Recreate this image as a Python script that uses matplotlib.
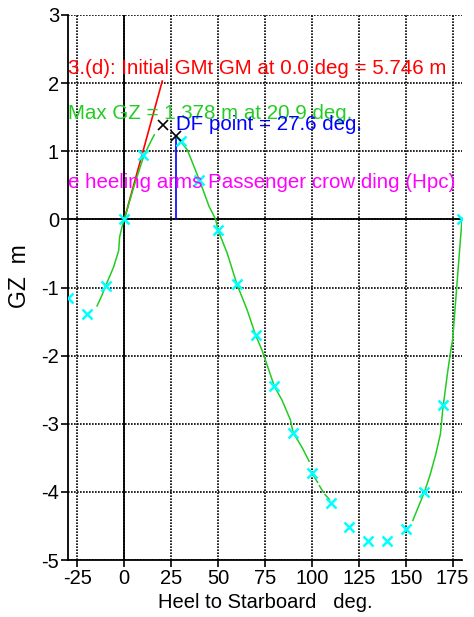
import numpy as np
import matplotlib
matplotlib.use("Agg")
import matplotlib.pyplot as plt

plt.rcParams['font.family'] = ['Liberation Sans', 'DejaVu Sans']

# GZ curve (traced polyline, None marks breaks in the drawn curve)
curve_heel = [-14.5, -12, -10, -8, -5.7, -3.0, -2.5, -1.2, 0, 5, 10.5, 15, 16, None,
              29.3, 33.6, 40, 45.2, 48.7, 50, 54.9, 60, 65.5, 70, 73.4, 80, 84, 88.5,
              90, 95, 98.5, None, 100, 103, None, 104, 106, None, 107, 109.3, None,
              153.8, 156, 160, 163, 166, 168.5, 169.7, 172.3, 174.1, 175, 180]
curve_gz = [-1.27, -1.12, -0.98, -0.85, -0.70, -0.46, -0.26, -0.11, 0, 0.47, 0.94, 1.19, 1.24, None,
            1.17, 1.02, 0.58, 0.19, 0.0, -0.16, -0.50, -0.95, -1.33, -1.70, -1.92, -2.45, -2.65, -2.94,
            -3.13, -3.36, -3.55, None, -3.72, -3.86, None, -3.91, -4.0, None, -4.04, -4.11, None,
            -4.42, -4.27, -4.00, -3.75, -3.45, -3.15, -2.80, -2.25, -1.91, -1.77, 0.0]

# Tabulated GZ points
point_heel = [-30, -20, -10, 0, 10, 30, 40, 50, 60, 70, 80, 90, 100, 110, 120,
              130, 140, 150, 160, 170, 180]
point_gz = [-1.16, -1.39, -0.98, 0.0, 0.94, 1.15, 0.58, -0.16, -0.95, -1.70, -2.45,
            -3.13, -3.72, -4.17, -4.52, -4.72, -4.72, -4.55, -4.00, -2.73, 0.0]

# Key values
gm_initial = 5.746
gm_line_top = 2.03
max_gz_heel = 20.9
max_gz = 1.378
df_heel = 27.6
df_gz = 1.22

x_ticks = [-25, 0, 25, 50, 75, 100, 125, 150, 175]
y_ticks = [-5, -4, -3, -2, -1, 0, 1, 2, 3]

green = '#22cc22'

fig = plt.figure(figsize=(4.74, 6.17), dpi=100)
ax = fig.add_axes([68 / 474, 1 - 560 / 617, (462 - 68) / 474, (560 - 15) / 617])
ax.set_xlim(-30, 180)
ax.set_ylim(-5, 3)

# dotted grid
for xv in x_ticks:
    ax.axvline(xv, color='black', lw=1.2, ls=(0, (1, 0.8)), zorder=1)
for yv in y_ticks:
    ax.axhline(yv, color='black', lw=1.2, ls=(0, (1, 0.8)), zorder=1)

# zero axes
ax.axhline(0, color='black', lw=1.3, zorder=2)
ax.axvline(0, color='black', lw=1.3, zorder=2)

# initial GM line
gm_x_end = gm_line_top / gm_initial * 180 / np.pi
ax.plot([0, gm_x_end], [0, gm_initial * gm_x_end * np.pi / 180], color='red', lw=1.2, zorder=3)

# GZ curve
cx = np.array([np.nan if v is None else v for v in curve_heel], dtype=float)
cy = np.array([np.nan if v is None else v for v in curve_gz], dtype=float)
ax.plot(cx, cy, color=green, lw=1.1, zorder=3)

# DF point line
ax.plot([df_heel, df_heel], [0, df_gz], color='blue', lw=1.2, zorder=3)

ax.plot(point_heel, point_gz, ls='none', marker='x', ms=7.5, mew=1.8, color='cyan', zorder=4)
ax.plot([max_gz_heel, df_heel], [max_gz, df_gz], ls='none', marker='x', ms=6.5, mew=1.2,
        color='black', zorder=5)

fs = 14.8
ax.text(-30, 2.135, f"3.(d): Initial GMt GM at 0.0 deg = {gm_initial:.3f} m", color='red',
        fontsize=fs, ha='left', va='baseline', zorder=6)
ax.text(-30, 1.47, f"Max GZ = {max_gz:.3f} m at {max_gz_heel:.1f} deg.", color=green,
        fontsize=fs, ha='left', va='baseline', zorder=6)
ax.text(df_heel, 1.313, f"DF point = {df_heel:.1f} deg.", color='blue',
        fontsize=fs, ha='left', va='baseline', zorder=6)
ax.text(-30, 0.466, "e heeling arms Passenger crow ding (Hpc)", color='magenta',
        fontsize=fs, ha='left', va='baseline', zorder=6)

ax.set_xticks(x_ticks)
ax.set_yticks(y_ticks)
ax.set_xticklabels([str(v) for v in x_ticks])
ax.set_yticklabels([str(v) for v in y_ticks])
ax.tick_params(direction='out', length=5, width=1.2, labelsize=14.5, pad=1.5, colors='black')

for s in ['top', 'right']:
    ax.spines[s].set_visible(False)
for s in ['left', 'bottom']:
    ax.spines[s].set_linewidth(1.3)

fig.text(265 / 474, 1 - 608 / 617, "Heel to Starboard   deg.", fontsize=14.5,
         ha='center', va='baseline')
fig.text(20 / 474, 1 - 276 / 617, "GZ  m", rotation=90, fontsize=16.5, ha='center', va='center')

fig.savefig('out.png', dpi=100)
